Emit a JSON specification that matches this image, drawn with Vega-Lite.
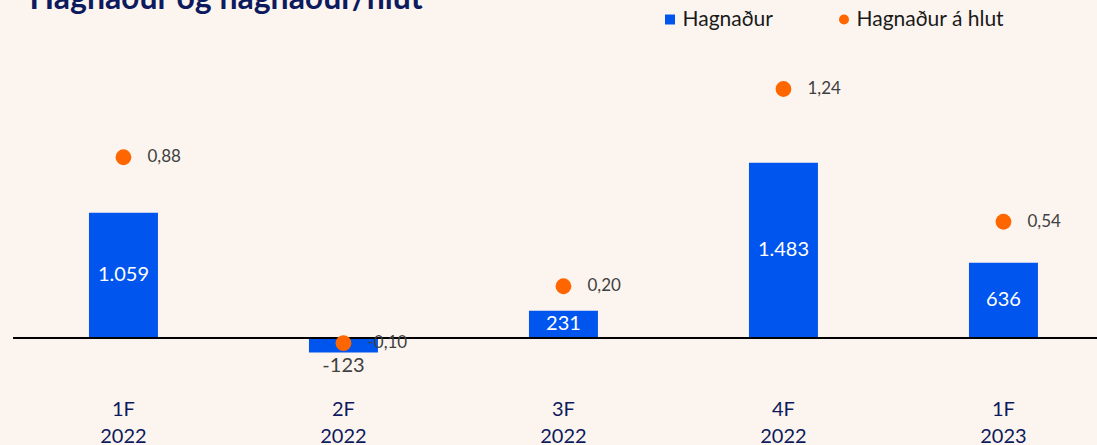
{
  "$schema": "https://vega.github.io/schema/vega-lite/v6.json",
  "width": 1083.5,
  "height": 350,
  "autosize": {"type": "none"},
  "padding": {"left": 13.5, "top": 40, "right": 0, "bottom": 55},
  "background": "#fcf5ef",
  "config": {
    "view": {"stroke": null},
    "font": "Lato",
    "locale": {"number": {"decimal": ",", "thousands": ".", "grouping": [3], "currency": ["", ""], "minus": "-"}}
  },
  "title": {
    "text": "Hagnaður og hagnaður/hlut",
    "anchor": "start",
    "frame": "group",
    "fontSize": 32,
    "fontWeight": "bold",
    "color": "#0d1a5e",
    "font": "Lato",
    "offset": -32,
    "baseline": "alphabetic",
    "dx": 16
  },
  "data": {
    "values": [
      {"period": "1F 2022", "hagnadur": 1059, "hlutur": 0.88},
      {"period": "2F 2022", "hagnadur": -123, "hlutur": -0.10},
      {"period": "3F 2022", "hagnadur": 231, "hlutur": 0.20},
      {"period": "4F 2022", "hagnadur": 1483, "hlutur": 1.24},
      {"period": "1F 2023", "hagnadur": 636, "hlutur": 0.54}
    ]
  },
  "layer": [
    {
      "mark": {"type": "bar"},
      "encoding": {
        "x": {
          "field": "period", "type": "nominal", "sort": null,
          "scale": {"paddingInner": 0.6864, "paddingOuter": 0.3057, "align": 0.561},
          "axis": {
            "title": null, "labelAngle": 0, "domain": false, "ticks": false,
            "labelExpr": "split(datum.label, ' ')", "labelFontSize": 20,
            "labelColor": "#0d1a5e", "labelLineHeight": 27, "labelPadding": 9, "labelFont": "Lato"
          }
        },
        "y": {"field": "hagnadur", "type": "quantitative", "scale": {"domain": [-440, 2521], "nice": false, "zero": false}, "axis": null},
        "color": {
          "datum": "Hagnaður",
          "type": "nominal",
          "scale": {"range": ["#0055ee"]},
          "legend": {
            "orient": "none", "legendX": 646, "legendY": -31, "title": null,
            "symbolType": "square", "symbolSize": 100, "labelFontSize": 21,
            "labelColor": "#1a1a1a", "padding": 0, "labelOffset": 2, "labelFont": "Lato"
          }
        }
      }
    },
    {
      "mark": {"type": "rule", "color": "#000000", "strokeWidth": 2},
      "encoding": {
        "y": {"datum": 0, "type": "quantitative", "scale": {"domain": [-440, 2521], "nice": false, "zero": false}, "axis": null}
      }
    },
    {
      "transform": [{"filter": "datum.hagnadur > 0"}],
      "mark": {"type": "text", "color": "#ffffff", "fontSize": 20, "baseline": "middle", "font": "Lato"},
      "encoding": {
        "x": {"field": "period", "type": "nominal", "sort": null},
        "y": {"field": "hagnadur", "type": "quantitative", "scale": {"domain": [-880, 5042], "nice": false, "zero": false}, "axis": null},
        "text": {"field": "hagnadur", "type": "quantitative", "format": ",d"}
      }
    },
    {
      "transform": [{"filter": "datum.hagnadur < 0"}],
      "mark": {"type": "text", "color": "#404040", "fontSize": 20, "baseline": "top", "dy": 3, "font": "Lato"},
      "encoding": {
        "x": {"field": "period", "type": "nominal", "sort": null},
        "y": {"field": "hagnadur", "type": "quantitative", "scale": {"domain": [-440, 2521], "nice": false, "zero": false}, "axis": null},
        "text": {"field": "hagnadur", "type": "quantitative", "format": ",d"}
      }
    },
    {
      "mark": {"type": "point", "filled": true, "opacity": 1, "size": 250},
      "encoding": {
        "x": {"field": "period", "type": "nominal", "sort": null},
        "y": {"field": "hlutur", "type": "quantitative", "scale": {"domain": [-0.3469, 1.4982], "nice": false, "zero": false}, "axis": null},
        "color": {
          "datum": "Hagnaður á hlut",
          "type": "nominal",
          "scale": {"range": ["#ff6600"]},
          "legend": {
            "orient": "none", "legendX": 820, "legendY": -31, "title": null,
            "symbolType": "circle", "symbolSize": 100, "labelFontSize": 21,
            "labelColor": "#1a1a1a", "padding": 0, "labelOffset": 2, "labelFont": "Lato"
          }
        }
      }
    },
    {
      "mark": {"type": "text", "color": "#404040", "fontSize": 17, "align": "left", "baseline": "middle", "dx": 24, "font": "Lato"},
      "encoding": {
        "x": {"field": "period", "type": "nominal", "sort": null},
        "y": {"field": "hlutur", "type": "quantitative", "scale": {"domain": [-0.3469, 1.4982], "nice": false, "zero": false}, "axis": null},
        "text": {"field": "hlutur", "type": "quantitative", "format": ",.2f"}
      }
    }
  ],
  "resolve": {"scale": {"y": "independent", "color": "independent"}}
}
